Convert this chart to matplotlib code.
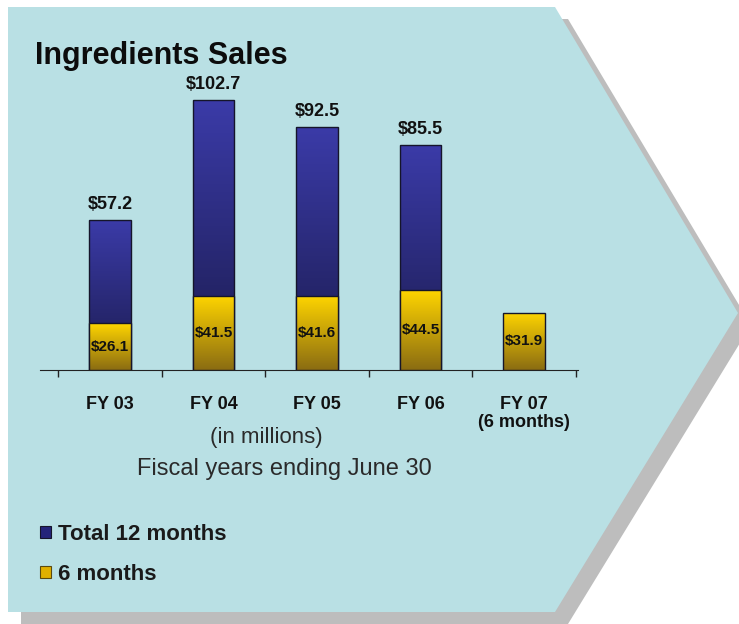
import numpy as np
import matplotlib
matplotlib.use("Agg")
import matplotlib.pyplot as plt
from matplotlib.colors import LinearSegmentedColormap
from matplotlib.patches import Polygon, Patch

# Ingredients sales, $ millions
categories = ["FY 03", "FY 04", "FY 05", "FY 06", "FY 07\n(6 months)"]
total_12m = [57.2, 102.7, 92.5, 85.5, None]
first_6m = [26.1, 41.5, 41.6, 44.5, 31.9]

BG = "#b9e0e4"
SHADOW = "#bdbdbd"
BLUE_TOP, BLUE_BOT = "#3b3ba8", "#1b1b4e"
GOLD_TOP, GOLD_BOT = "#ffd500", "#8a6c12"
EDGE = "#15152a"
FONT = "Liberation Sans"

W, H = 739, 624
fig = plt.figure(figsize=(W / 100, H / 100), dpi=100)
fig.patch.set_facecolor("white")

# chevron backdrop in pixel coordinates
bg = fig.add_axes([0, 0, 1, 1])
bg.set_xlim(0, W)
bg.set_ylim(H, 0)
bg.axis("off")
chevron = np.array([[8, 7], [555, 7], [738, 313], [555, 612], [8, 612]])
bg.add_patch(Polygon(chevron + [13, 12], closed=True, facecolor=SHADOW, edgecolor="none"))
bg.add_patch(Polygon(chevron, closed=True, facecolor=BG, edgecolor="none"))


def px(x0, y0, x1, y1):
    return [x0 / W, 1 - y1 / H, (x1 - x0) / W, (y1 - y0) / H]


def shade_bars(ax, bars, top, bottom):
    cmap = LinearSegmentedColormap.from_list("g", [bottom, top])
    grad = np.linspace(0, 1, 256).reshape(-1, 1)
    for b in bars:
        x0, y0 = b.get_x(), b.get_y()
        x1, y1 = x0 + b.get_width(), y0 + b.get_height()
        im = ax.imshow(grad, cmap=cmap, origin="lower", aspect="auto",
                       extent=[x0, x1, y0, y1], zorder=b.get_zorder() - 0.1)
        im.set_clip_path(b)
        b.set_facecolor("none")


ax_pos = px(40, 80, 578, 370)
ax = fig.add_axes(ax_pos)
ax2 = fig.add_axes(ax_pos, sharex=ax)
for a in (ax, ax2):
    a.set_facecolor("none")
    for s in ("top", "right", "left"):
        a.spines[s].set_visible(False)
    a.tick_params(axis="y", left=False, labelleft=False)

x = np.arange(len(categories))
width = 0.40

# full-year totals (dark blue) on their own scale
tx = [i for i, v in zip(x, total_12m) if v is not None]
tv = [v for v in total_12m if v is not None]
blue = ax.bar(tx, tv, width, edgecolor=EDGE, linewidth=1.0, zorder=3)
for b, v in zip(blue, tv):
    ax.annotate(f"${v:.1f}", (b.get_x() + b.get_width() / 2, v),
                xytext=(0, 5), textcoords="offset points", ha="center", va="bottom",
                fontsize=13, fontweight="bold", family=FONT, color="#111111")

# six-month figures (gold) overlaid in front
gold = ax2.bar(x, first_6m, width, edgecolor=EDGE, linewidth=1.0, zorder=3)
for b, v in zip(gold, first_6m):
    ax2.text(b.get_x() + b.get_width() / 2, v / 2, f"${v:.1f}",
             ha="center", va="center", fontsize=11, fontweight="bold",
             family=FONT, color="#111111", zorder=5)

shade_bars(ax, blue, BLUE_TOP, BLUE_BOT)
shade_bars(ax2, gold, GOLD_TOP, GOLD_BOT)

ax.set_xlim(-0.676, 4.52)
ax.set_ylim(0, 290 / 2.63)
ax2.set_ylim(0, 290 / 1.79)

ax.set_xticks(x)
ax.set_xticklabels(categories, fontsize=13, fontweight="bold", family=FONT,
                   color="#111111", linespacing=1.05)
ax.set_xticks(np.arange(-0.5, 4.6, 1.0), minor=True)
ax.tick_params(axis="x", which="major", length=0, pad=19)
ax.tick_params(axis="x", which="minor", length=5, width=1.0, color="#222222", direction="out")
ax.spines["bottom"].set_color("#222222")
ax2.spines["bottom"].set_visible(False)
ax2.tick_params(axis="x", which="both", bottom=False, labelbottom=False)

fig.text(35 / W, 1 - 64 / H, "Ingredients Sales", fontsize=22, fontweight="bold",
         family=FONT, color="#0c0c0c", va="baseline", ha="left")
fig.text(266 / W, 1 - 437 / H, "(in millions)", fontsize=16, family=FONT,
         color="#2a2a2a", ha="center", va="center")
fig.text(284 / W, 1 - 469 / H, "Fiscal years ending June 30", fontsize=17, family=FONT,
         color="#2a2a2a", ha="center", va="center")

handles = [Patch(facecolor="#24247a", edgecolor=EDGE, linewidth=0.8),
           Patch(facecolor="#e0b000", edgecolor="#5a4a10", linewidth=0.8)]
fig.legend(handles, ["Total 12 months", "6 months"], loc="upper left",
           bbox_to_anchor=(40 / W, 1 - 524 / H), frameon=False,
           prop={"family": FONT, "weight": "bold", "size": 16},
           handlelength=0.5, handleheight=0.5, handletextpad=0.3,
           labelspacing=0.85, borderpad=0, borderaxespad=0, labelcolor="#1a1a1a")

fig.savefig("out.png", dpi=100)
